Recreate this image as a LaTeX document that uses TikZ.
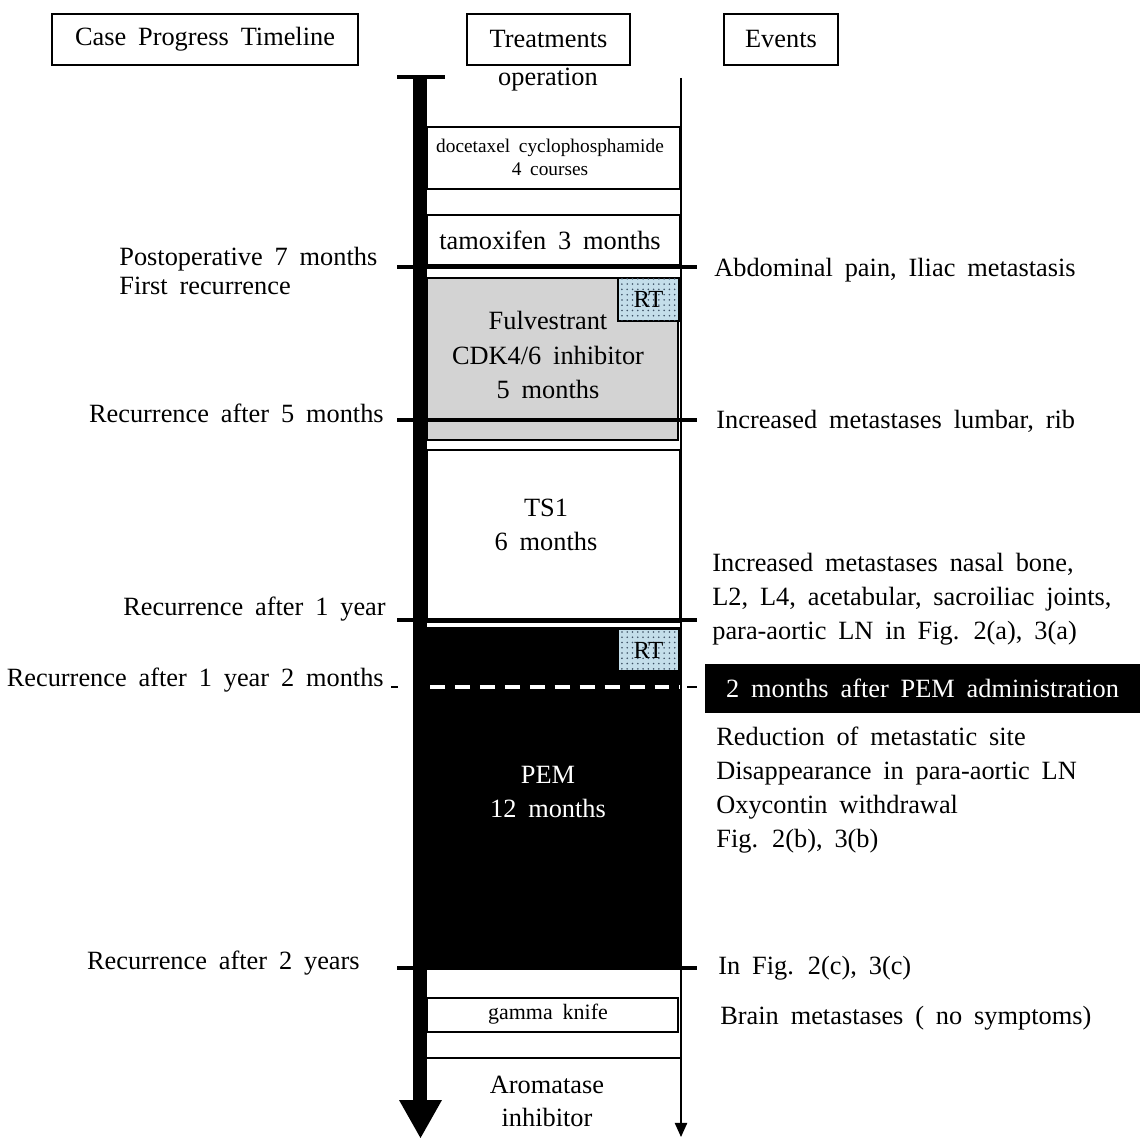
\documentclass[tikz,border=0pt]{standalone}
\usepackage{fontspec}
\setmainfont{Liberation Serif}[WordSpace=1.8]
\usetikzlibrary{patterns,arrows.meta}

\definecolor{fulgray}{RGB}{211,211,211}
\definecolor{rtblue}{RGB}{196,222,234}
\definecolor{rtdot}{RGB}{60,80,100}

\tikzset{
	lbl/.style={inner sep=0pt, font=\fontsize{15}{19.5}\selectfont},
	smalllbl/.style={inner sep=0pt, font=\fontsize{11}{13}\selectfont},
	rtlbl/.style={inner sep=0pt, font=\fontsize{14}{16}\selectfont},
	head/.style={draw, line width=1pt, inner sep=0pt, minimum height=1.02cm, font=\fontsize{15}{18}\selectfont},
	treat/.style={draw, line width=0.9pt},
	rtbox/.style={draw, line width=0.9pt, fill=rtblue, postaction={pattern=dots, pattern color=rtdot}},
	cutline/.style={line width=2pt},
}

\begin{document}
\begin{tikzpicture}[x=0.02cm, y=-0.02cm]
	\useasboundingbox (0,0) rectangle (1140,1138);
	
	\node [head, minimum width=6.12cm] (hcase)   at (205,39.5)   {Case Progress Timeline};
	\node [head, minimum width=3.26cm] (htreat)  at (548.5,39.5) {Treatments};
	\node [head, minimum width=2.28cm] (hevent)  at (781,39.5)   {Events};
	
	\draw [treat]                   (427,127)    rectangle    (680,189);
	\draw [treat]                   (427,215)    rectangle    (680,265);
	\draw [treat, fill=fulgray]     (427,278)    rectangle    (678,440);
	\draw [rtbox]                   (618,278)    rectangle    (679,321);
	\draw [treat, line width=0.7pt] (427,450)    rectangle    (680,622);
	\fill [black]                   (427,627)    rectangle    (680,969);
	\draw [rtbox]                   (618,629)    rectangle    (679,671);
	\draw [white, line width=1.8pt, dash pattern=on 8.5pt off 5.7pt] (430,687) -- (680,687);
	\draw [treat, line width=0.7pt] (427,998)    rectangle    (678,1032);
	\draw [treat, line width=0.7pt] (427,1058)   --           (680,1058);
	
	\node [lbl]                     (oper)   at (548,80)   {operation};
	\node [smalllbl, align=center]  (doce)   at (550,157)  {docetaxel cyclophosphamide\\4 courses};
	\node [lbl]                     (tamox)  at (550,240)  {tamoxifen 3 months};
	\node [lbl, align=center]       (fulv)   at (548,355)  {Fulvestrant\\CDK4/6 inhibitor\\5 months};
	\node [rtlbl]                   (rt1)    at (648.5,299) {RT};
	\node [lbl, align=center]       (ts1)    at (546,525)  {TS1\\6 months};
	\node [rtlbl]                   (rt2)    at (648.5,650) {RT};
	\node [lbl, align=center, text=white] (pem) at (548,792) {PEM\\12 months};
	\node [font=\fontsize{12.5}{14}\selectfont, inner sep=0pt] (gamma) at (548,1014) {gamma knife};
	\node [lbl, align=center, font=\fontsize{15}{18.7}\selectfont] (aroma) at (547,1101) {Aromatase\\inhibitor};
	
	\draw [cutline]         (397,77)     --    (445,77);
	\draw [cutline]         (397,267)    --    (697,267);
	\draw [cutline]         (397,420)    --    (697,420);
	\draw [cutline]         (397,620)    --    (697,620);
	\draw [cutline]         (397,968)    --    (697,968);
	\draw [line width=1.5pt] (391,687)   --    (398,687);
	\draw [line width=1.5pt] (687,687)   --    (697,687);
	
	\draw [line width=0.8pt, -{Triangle[width=7pt, length=8pt]}] (681,78) -- (681,1137);
	\fill [black] (413,77) rectangle (427,1101);
	\fill [black] (399,1100) -- (442,1100) -- (420.5,1138) -- cycle;
	
	\node [lbl, align=left, font=\fontsize{15}{17}\selectfont, anchor=west] (postop) at (119,271) {Postoperative 7 months\\First recurrence};
	\node [lbl, anchor=east] (rec5)   at (384,413) {Recurrence after 5 months};
	\node [lbl, anchor=east] (rec1y)  at (386,609) {Recurrence after 1 year};
	\node [lbl, anchor=east] (rec1y2) at (384,680) {Recurrence after 1 year 2 months};
	\node [lbl, anchor=east] (rec2y)  at (360,963) {Recurrence after 2 years};
	
	\node [lbl, anchor=west] (ev1) at (714,270) {Abdominal pain, Iliac metastasis};
	\node [lbl, anchor=west] (ev2) at (716,421) {Increased metastases lumbar, rib};
	\node [lbl, anchor=west, align=left] (ev3) at (712,599) {Increased metastases nasal bone,\\L2, L4, acetabular, sacroiliac joints,\\para-aortic LN in Fig. 2(a), 3(a)};
	\node [lbl, fill=black, text=white, minimum width=8.7cm, minimum height=0.98cm] (ev4) at (922.5,688.5) {2 months after PEM administration};
	\node [lbl, anchor=west, align=left] (ev5) at (716,790) {Reduction of metastatic site\\Disappearance in para-aortic LN\\Oxycontin withdrawal\\Fig. 2(b), 3(b)};
	\node [lbl, anchor=west] (ev6) at (718,968)  {In Fig. 2(c), 3(c)};
	\node [lbl, anchor=west] (ev7) at (720,1018) {Brain metastases ( no symptoms)};
	
\end{tikzpicture}
\end{document}
